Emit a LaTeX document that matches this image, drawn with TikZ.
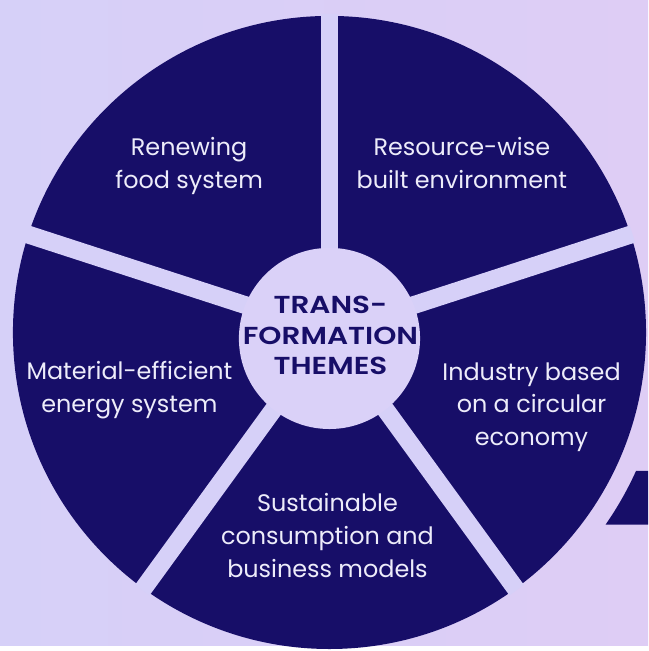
\documentclass[tikz,border=0pt]{standalone}
\usepackage{fontspec}
\setmainfont{Poppins}
\newfontfamily\hubfont[FakeStretch=1.2,BoldFont={Poppins SemiBold}]{Poppins}
\definecolor{navy}{HTML}{170E68}
\definecolor{lilac}{HTML}{D6D0F8}
\definecolor{lilacpink}{HTML}{DECDF5}
\definecolor{hubfill}{HTML}{DAD1F8}
\definecolor{label}{HTML}{EDECFA}
\begin{document}
\begin{tikzpicture}[x=0.75pt,y=0.75pt,
  theme/.style={text=label,align=center,font=\fontsize{18}{24.75}\selectfont},
  hub/.style={text=navy,align=center,font=\hubfont\fontsize{18.5}{22.75}\selectfont\bfseries}]
\shade[left color=lilac,right color=lilacpink] (0,0) rectangle (651,648);
\coordinate (c) at (331,314);
% the five themes as one disc cut by gaps
\fill[navy] (c) circle (318);
\begin{scope}
\clip (c) circle (320);
\foreach \a in {18,90,162,234,306}
  \draw[lilac,line width=13.5pt] (c) -- ++(\a:340);
\end{scope}
% piece of the next element at the right edge
\fill[navy] (651,175) -- (639,175) arc[start angle=-24.28,end angle=-34.82,radius=338]
  -- (651,121) -- cycle;
\fill[hubfill] (331,308) circle (91);
\node[hub] (hub) at (332,311) {TRANS-\\FORMATION\\THEMES};
\node[theme] (food) at (190,481) {Renewing\\food system};
\node[theme] (built) at (464,484) {Resource-wise\\built environment};
\node[theme] (energy) at (130,256) {Material-efficient\\energy system};
\node[theme] (industry) at (534,239) {Industry based\\on a circular\\economy};
\node[theme] (business) at (329,110) {Sustainable\\consumption and\\business models};
\end{tikzpicture}
\end{document}
